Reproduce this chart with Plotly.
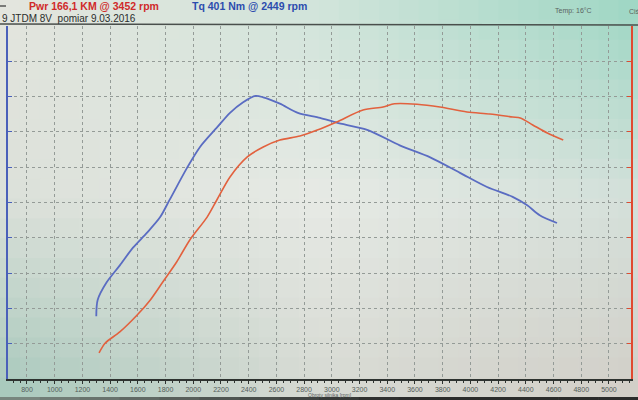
import plotly.graph_objects as go

# ---------------- data ----------------
rpm_torque = [1300, 1310, 1375, 1470, 1565, 1665, 1760, 1830, 1955, 2050, 2170, 2265,
              2360, 2449, 2505, 2625, 2755, 2915, 3035, 3255, 3490, 3710, 3925, 4120,
              4305, 4410, 4500, 4625]
torque_nm = [89, 112, 137, 161, 186, 207, 229, 254, 299, 329, 356, 377,
             392, 401, 399, 390, 377, 370, 363, 353, 331, 314, 292, 272,
             258, 246, 232, 221]

rpm_power = [1320, 1365, 1470, 1595, 1690, 1780, 1880, 1975, 2100, 2170, 2265, 2390,
             2505, 2625, 2770, 2895, 3035, 3225, 3370, 3452, 3615, 3780, 3975, 4140,
             4305, 4360, 4450, 4555, 4670]
power_km = [15.7, 21.7, 28.4, 38.6, 47.7, 58.5, 70.6, 83.9, 97.7, 108.0, 121.9, 134.0,
            140.0, 144.2, 146.6, 150.2, 155.1, 162.3, 164.1, 166.1, 165.8, 164.1, 161.1, 159.9,
            158.1, 157.5, 153.3, 148.4, 144.2]

rpm_ticks = list(range(800, 5001, 200))
rpm_tick_labels = [str(v) for v in rpm_ticks]

title_power = "Pwr 166,1 KM @ 3452 rpm"
title_torque = "Tq 401 Nm @ 2449 rpm"
subtitle = "9 JTDM 8V  pomiar 9.03.2016"
temp_text = "Temp: 16°C"
press_text = "Ciś"
x_title = "Obroty silnika [rpm]"

# ---------------- styling ----------------
W, H = 638, 400
ML, MR, MT, MB = 8, 7, 26, 21
PW, PH = W - ML - MR, H - MT - MB
FONT = "Liberation Sans, Arial, sans-serif"
BLUE = "#5a6cc2"
RED = "#e2613e"


def px(x):
    return (x - ML) / PW


def py(y):
    return (H - MB - y) / PH


def hex2rgb(h):
    h = h.lstrip("#")
    return [int(h[i:i + 2], 16) for i in (0, 2, 4)]


def mix(a, b, t):
    return [a[i] + (b[i] - a[i]) * t for i in range(3)]


anchors = [
    [hex2rgb("#e4e5de"), hex2rgb("#d0e4da"), hex2rgb("#9cd6c3")],
    [hex2rgb("#dbe0d9"), hex2rgb("#e7eae5"), hex2rgb("#d4e0da")],
    [hex2rgb("#a6c8bb"), hex2rgb("#d6d9d2"), hex2rgb("#d2cec7")],
]


def bg_color(fx, fy):
    gx, gy = fx * 2, fy * 2
    ix, iy = min(int(gx), 1), min(int(gy), 1)
    tx, ty = gx - ix, gy - iy
    top = mix(anchors[iy][ix], anchors[iy][ix + 1], tx)
    bot = mix(anchors[iy + 1][ix], anchors[iy + 1][ix + 1], tx)
    c = mix(top, bot, ty)
    return "rgb(%d,%d,%d)" % tuple(int(round(v)) for v in c)


shapes = []
NX, NY = 32, 20
BG_H = 397
for j in range(NY):
    for i in range(NX):
        x0, x1 = W * i / NX, W * (i + 1) / NX + 0.6
        y0, y1 = BG_H * j / NY, BG_H * (j + 1) / NY + 0.6
        shapes.append(dict(type="rect", xref="paper", yref="paper",
                           x0=px(x0), x1=px(x1), y0=py(y1), y1=py(y0),
                           line=dict(width=0),
                           fillcolor=bg_color((i + 0.5) / NX, (j + 0.5) / NY),
                           layer="below"))
# bottom bezel strip
NB = 16
for i in range(NB):
    t = (i + 0.5) / NB
    c = mix(hex2rgb("#7d8b83"), hex2rgb("#2b2c2b"), min(1, t * 1.6))
    shapes.append(dict(type="rect", xref="paper", yref="paper",
                       x0=px(W * i / NB), x1=px(W * (i + 1) / NB + 0.6),
                       y0=py(H), y1=py(BG_H),
                       line=dict(width=0),
                       fillcolor="rgb(%d,%d,%d)" % tuple(int(v) for v in c),
                       layer="below"))
# header separator
shapes.append(dict(type="line", xref="paper", yref="paper",
                   x0=px(0), x1=px(W), y0=py(24), y1=py(25),
                   line=dict(color="#4a4f4c", width=1.5), layer="above"))
# small dash at top-left
shapes.append(dict(type="line", xref="paper", yref="paper",
                   x0=px(0), x1=px(6), y0=py(6), y1=py(6),
                   line=dict(color="#333", width=1.2), layer="above"))

fig = go.Figure()
fig.add_trace(go.Scatter(x=rpm_torque, y=torque_nm, mode="lines", name="Tq",
                         line=dict(color=BLUE, width=1.8, shape="spline", smoothing=0.8),
                         yaxis="y"))
fig.add_trace(go.Scatter(x=rpm_power, y=power_km, mode="lines", name="Pwr",
                         line=dict(color=RED, width=1.6, shape="spline", smoothing=0.8),
                         yaxis="y2"))

annotations = [
    dict(text="<b>" + title_power + "</b>", x=px(27), y=py(6), xanchor="left", yanchor="middle",
         font=dict(family=FONT, size=10.5, color="#d02a2a")),
    dict(text="<b>" + title_torque + "</b>", x=px(190), y=py(6), xanchor="left", yanchor="middle",
         font=dict(family=FONT, size=10.5, color="#2c4cae")),
    dict(text=subtitle, x=px(0), y=py(18), xanchor="left", yanchor="middle",
         font=dict(family=FONT, size=10, color="#2a2d2c")),
    dict(text=temp_text, x=px(553), y=py(11), xanchor="left", yanchor="middle",
         font=dict(family=FONT, size=7, color="#5a6360")),
    dict(text=press_text, x=px(627), y=py(11), xanchor="left", yanchor="middle",
         font=dict(family=FONT, size=7, color="#5a6360")),
    dict(text=x_title, x=px(306), y=py(395), xanchor="left", yanchor="middle",
         font=dict(family=FONT, size=5, color="#5a6360")),
]
for a in annotations:
    a["xref"] = "paper"
    a["yref"] = "paper"
    a["showarrow"] = False

fig.update_layout(
    width=W, height=H,
    margin=dict(l=ML, r=MR, t=MT, b=MB, pad=0),
    paper_bgcolor="#e2e6e0",
    plot_bgcolor="rgba(0,0,0,0)",
    showlegend=False,
    font=dict(family=FONT),
    shapes=shapes,
    annotations=annotations,
    xaxis=dict(range=[663, 5159], tickvals=rpm_ticks, ticktext=rpm_tick_labels,
               showgrid=True, gridcolor="#949b97", griddash="dot", gridwidth=1,
               showline=True, linecolor="#2e3330", linewidth=1.5,
               ticks="outside", ticklen=3, tickcolor="#2e3330",
               minor=dict(dtick=50, ticks="outside", ticklen=2, tickcolor="#2e3330", showgrid=False),
               tickfont=dict(family=FONT, size=7, color="#55605b"),
               zeroline=False, fixedrange=True),
    yaxis=dict(range=[0, 500], dtick=50, showgrid=True, gridcolor="#949b97",
               griddash="dot", gridwidth=1, showline=True, linecolor="#4a60ba",
               linewidth=2, ticks="inside", ticklen=4, tickcolor="#4a60ba",
               showticklabels=False, zeroline=False, fixedrange=True),
    yaxis2=dict(range=[0, 213], dtick=21.3, overlaying="y", side="right",
                showgrid=False, showline=True, linecolor="#e04a30", linewidth=2,
                ticks="inside", ticklen=4, tickcolor="#e04a30",
                showticklabels=False, zeroline=False, fixedrange=True),
)

fig.write_html("out.html", config=dict(displayModeBar=False),
               post_script="document.body.style.margin='0px';document.body.style.overflow='hidden';")
